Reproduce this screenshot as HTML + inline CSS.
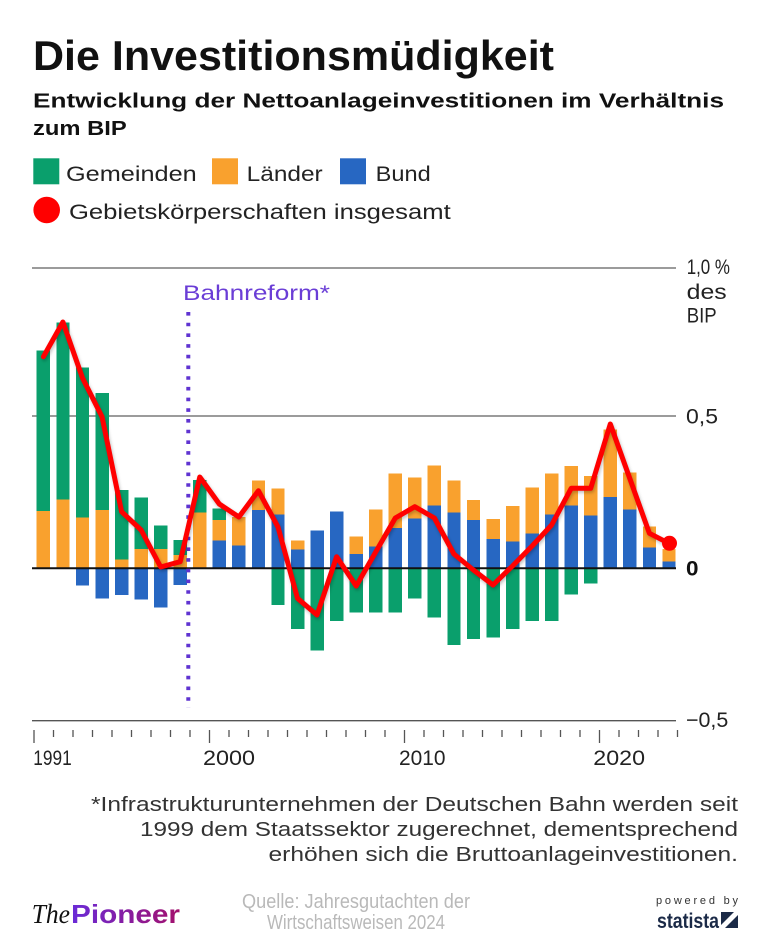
<!DOCTYPE html>
<html>
<head>
<meta charset="utf-8">
<style>
  html,body{margin:0;padding:0;background:#fff;}
  svg{display:block;}
  text{font-family:"Liberation Sans", "DejaVu Sans", sans-serif;}
</style>
</head>
<body>
<svg width="768" height="939" viewBox="0 0 768 939" xmlns="http://www.w3.org/2000/svg">
  <defs>
    <linearGradient id="pg" x1="0" y1="0" x2="1" y2="0">
      <stop offset="0" stop-color="#6a2bd8"/>
      <stop offset="1" stop-color="#a3106c"/>
    </linearGradient>
    <filter id="sh" x="-5%" y="-5%" width="110%" height="110%">
      <feGaussianBlur stdDeviation="1.5"/>
    </filter>
  </defs>

  <!-- Header -->
  <text x="33" y="70" font-size="42" font-weight="bold" fill="#111" textLength="521" lengthAdjust="spacingAndGlyphs">Die Investitionsmüdigkeit</text>
  <text x="33" y="107.3" font-size="20.5" font-weight="bold" fill="#111" textLength="691" lengthAdjust="spacingAndGlyphs">Entwicklung der Nettoanlageinvestitionen im Verhältnis</text>
  <text x="33" y="135" font-size="20.5" font-weight="bold" fill="#111" textLength="93.7" lengthAdjust="spacingAndGlyphs">zum BIP</text>

  <!-- Legend -->
  <rect x="33.3" y="158.3" width="26" height="26" fill="#0a9f6c"/>
  <text x="66" y="181" font-size="21" fill="#222" textLength="130.7" lengthAdjust="spacingAndGlyphs">Gemeinden</text>
  <rect x="212" y="158.3" width="26" height="26" fill="#f9a12e"/>
  <text x="246.7" y="181" font-size="21" fill="#222" textLength="76" lengthAdjust="spacingAndGlyphs">Länder</text>
  <rect x="340" y="158.3" width="26" height="26" fill="#2767c2"/>
  <text x="375.7" y="181" font-size="21" fill="#222" textLength="55" lengthAdjust="spacingAndGlyphs">Bund</text>
  <circle cx="46.7" cy="210" r="13.3" fill="#ff0000"/>
  <text x="69" y="219" font-size="21" fill="#222" textLength="381.7" lengthAdjust="spacingAndGlyphs">Gebietskörperschaften insgesamt</text>

  <!-- Gridlines -->
  <line x1="32" y1="268" x2="676" y2="268" stroke="#7a7a7a" stroke-width="1.4"/>
  <line x1="32" y1="416" x2="676" y2="416" stroke="#7a7a7a" stroke-width="1.4"/>
  <line x1="32" y1="720.7" x2="676" y2="720.7" stroke="#555" stroke-width="1.4"/>

  <!-- Bars -->
  <g shape-rendering="crispEdges">
    <!-- 1991 -->
    <rect x="36.7" y="511" width="13.4" height="57.3" fill="#f9a12e"/>
    <rect x="36.7" y="350.7" width="13.4" height="160.3" fill="#0a9f6c"/>
    <!-- 1992 -->
    <rect x="56.25" y="499.3" width="13.4" height="69" fill="#f9a12e"/>
    <rect x="56.25" y="322.7" width="13.4" height="176.6" fill="#0a9f6c"/>
    <!-- 1993 -->
    <rect x="75.8" y="517.3" width="13.4" height="51" fill="#f9a12e"/>
    <rect x="75.8" y="367.3" width="13.4" height="150" fill="#0a9f6c"/>
    <rect x="75.8" y="568.3" width="13.4" height="17" fill="#2767c2"/>
    <!-- 1994 -->
    <rect x="95.35" y="510" width="13.4" height="58.3" fill="#f9a12e"/>
    <rect x="95.35" y="393" width="13.4" height="117" fill="#0a9f6c"/>
    <rect x="95.35" y="568.3" width="13.4" height="30" fill="#2767c2"/>
    <!-- 1995 -->
    <rect x="114.9" y="559.3" width="13.4" height="9" fill="#f9a12e"/>
    <rect x="114.9" y="490" width="13.4" height="69.3" fill="#0a9f6c"/>
    <rect x="114.9" y="568.3" width="13.4" height="26.7" fill="#2767c2"/>
    <!-- 1996 -->
    <rect x="134.45" y="549" width="13.4" height="19.3" fill="#f9a12e"/>
    <rect x="134.45" y="497.3" width="13.4" height="51.7" fill="#0a9f6c"/>
    <rect x="134.45" y="568.3" width="13.4" height="31" fill="#2767c2"/>
    <!-- 1997 -->
    <rect x="154" y="549" width="13.4" height="19.3" fill="#f9a12e"/>
    <rect x="154" y="525.7" width="13.4" height="23.3" fill="#0a9f6c"/>
    <rect x="154" y="568.3" width="13.4" height="39" fill="#2767c2"/>
    <!-- 1998 -->
    <rect x="173.55" y="555" width="13.4" height="13.3" fill="#f9a12e"/>
    <rect x="173.55" y="540" width="13.4" height="15" fill="#0a9f6c"/>
    <rect x="173.55" y="568.3" width="13.4" height="16.7" fill="#2767c2"/>
    <!-- 1999 -->
    <rect x="193.1" y="512.7" width="13.4" height="55.6" fill="#f9a12e"/>
    <rect x="193.1" y="480" width="13.4" height="32.7" fill="#0a9f6c"/>
    <!-- 2000 -->
    <rect x="212.65" y="540.7" width="13.4" height="27.6" fill="#2767c2"/>
    <rect x="212.65" y="520" width="13.4" height="20.7" fill="#f9a12e"/>
    <rect x="212.65" y="508.3" width="13.4" height="11.7" fill="#0a9f6c"/>
    <!-- 2001 -->
    <rect x="232.2" y="545.7" width="13.4" height="22.6" fill="#2767c2"/>
    <rect x="232.2" y="517" width="13.4" height="28.7" fill="#f9a12e"/>
    <!-- 2002 -->
    <rect x="251.75" y="510" width="13.4" height="58.3" fill="#2767c2"/>
    <rect x="251.75" y="480.7" width="13.4" height="29.3" fill="#f9a12e"/>
    <!-- 2003 -->
    <rect x="271.3" y="514.3" width="13.4" height="54" fill="#2767c2"/>
    <rect x="271.3" y="488.3" width="13.4" height="26" fill="#f9a12e"/>
    <rect x="271.3" y="568.3" width="13.4" height="36.7" fill="#0a9f6c"/>
    <!-- 2004 -->
    <rect x="290.85" y="549.3" width="13.4" height="19" fill="#2767c2"/>
    <rect x="290.85" y="540.7" width="13.4" height="8.6" fill="#f9a12e"/>
    <rect x="290.85" y="568.3" width="13.4" height="60.7" fill="#0a9f6c"/>
    <!-- 2005 -->
    <rect x="310.4" y="530.7" width="13.4" height="37.6" fill="#2767c2"/>
    <rect x="310.4" y="568.3" width="13.4" height="82" fill="#0a9f6c"/>
    <!-- 2006 -->
    <rect x="329.95" y="511.7" width="13.4" height="56.6" fill="#2767c2"/>
    <rect x="329.95" y="568.3" width="13.4" height="52.7" fill="#0a9f6c"/>
    <!-- 2007 -->
    <rect x="349.5" y="554" width="13.4" height="14.3" fill="#2767c2"/>
    <rect x="349.5" y="536.7" width="13.4" height="17.3" fill="#f9a12e"/>
    <rect x="349.5" y="568.3" width="13.4" height="44" fill="#0a9f6c"/>
    <!-- 2008 -->
    <rect x="369.05" y="546.7" width="13.4" height="21.6" fill="#2767c2"/>
    <rect x="369.05" y="509.3" width="13.4" height="37.4" fill="#f9a12e"/>
    <rect x="369.05" y="568.3" width="13.4" height="44" fill="#0a9f6c"/>
    <!-- 2009 -->
    <rect x="388.6" y="528" width="13.4" height="40.3" fill="#2767c2"/>
    <rect x="388.6" y="473.3" width="13.4" height="54.7" fill="#f9a12e"/>
    <rect x="388.6" y="568.3" width="13.4" height="44" fill="#0a9f6c"/>
    <!-- 2010 -->
    <rect x="408.15" y="518.3" width="13.4" height="50" fill="#2767c2"/>
    <rect x="408.15" y="477.3" width="13.4" height="41" fill="#f9a12e"/>
    <rect x="408.15" y="568.3" width="13.4" height="30" fill="#0a9f6c"/>
    <!-- 2011 -->
    <rect x="427.7" y="505.7" width="13.4" height="62.6" fill="#2767c2"/>
    <rect x="427.7" y="465.7" width="13.4" height="40" fill="#f9a12e"/>
    <rect x="427.7" y="568.3" width="13.4" height="49" fill="#0a9f6c"/>
    <!-- 2012 -->
    <rect x="447.25" y="512.7" width="13.4" height="55.6" fill="#2767c2"/>
    <rect x="447.25" y="480.7" width="13.4" height="32" fill="#f9a12e"/>
    <rect x="447.25" y="568.3" width="13.4" height="76.7" fill="#0a9f6c"/>
    <!-- 2013 -->
    <rect x="466.8" y="520" width="13.4" height="48.3" fill="#2767c2"/>
    <rect x="466.8" y="500" width="13.4" height="20" fill="#f9a12e"/>
    <rect x="466.8" y="568.3" width="13.4" height="70.7" fill="#0a9f6c"/>
    <!-- 2014 -->
    <rect x="486.35" y="539" width="13.4" height="29.3" fill="#2767c2"/>
    <rect x="486.35" y="519" width="13.4" height="20" fill="#f9a12e"/>
    <rect x="486.35" y="568.3" width="13.4" height="69" fill="#0a9f6c"/>
    <!-- 2015 -->
    <rect x="505.9" y="541.7" width="13.4" height="26.6" fill="#2767c2"/>
    <rect x="505.9" y="506" width="13.4" height="35.7" fill="#f9a12e"/>
    <rect x="505.9" y="568.3" width="13.4" height="60.7" fill="#0a9f6c"/>
    <!-- 2016 -->
    <rect x="525.45" y="533.3" width="13.4" height="35" fill="#2767c2"/>
    <rect x="525.45" y="487.3" width="13.4" height="46" fill="#f9a12e"/>
    <rect x="525.45" y="568.3" width="13.4" height="52.7" fill="#0a9f6c"/>
    <!-- 2017 -->
    <rect x="545" y="514.3" width="13.4" height="54" fill="#2767c2"/>
    <rect x="545" y="473.3" width="13.4" height="41" fill="#f9a12e"/>
    <rect x="545" y="568.3" width="13.4" height="52.7" fill="#0a9f6c"/>
    <!-- 2018 -->
    <rect x="564.55" y="505.3" width="13.4" height="63" fill="#2767c2"/>
    <rect x="564.55" y="466" width="13.4" height="39.3" fill="#f9a12e"/>
    <rect x="564.55" y="568.3" width="13.4" height="26" fill="#0a9f6c"/>
    <!-- 2019 -->
    <rect x="584.1" y="515.3" width="13.4" height="53" fill="#2767c2"/>
    <rect x="584.1" y="476" width="13.4" height="39.3" fill="#f9a12e"/>
    <rect x="584.1" y="568.3" width="13.4" height="15" fill="#0a9f6c"/>
    <!-- 2020 -->
    <rect x="603.65" y="497" width="13.4" height="71.3" fill="#2767c2"/>
    <rect x="603.65" y="429.3" width="13.4" height="67.7" fill="#f9a12e"/>
    <!-- 2021 -->
    <rect x="623.2" y="509.3" width="13.4" height="59" fill="#2767c2"/>
    <rect x="623.2" y="472.7" width="13.4" height="36.6" fill="#f9a12e"/>
    <!-- 2022 -->
    <rect x="642.75" y="547.3" width="13.4" height="21" fill="#2767c2"/>
    <rect x="642.75" y="526.7" width="13.4" height="20.6" fill="#f9a12e"/>
    <!-- 2023 -->
    <rect x="662.3" y="561.7" width="13.4" height="6.6" fill="#2767c2"/>
    <rect x="662.3" y="549" width="13.4" height="12.7" fill="#f9a12e"/>
  </g>

  <!-- Zero line -->
  <line x1="32" y1="568.3" x2="676" y2="568.3" stroke="#111" stroke-width="2"/>

  <!-- Bahnreform dotted line -->
  <line x1="188.3" y1="312" x2="188.3" y2="708" stroke="#5f33d1" stroke-width="4" stroke-dasharray="3.6 7.1"/>
  <text x="183" y="300" font-size="21" fill="#6a3dd6" textLength="147" lengthAdjust="spacingAndGlyphs">Bahnreform*</text>

  <!-- Red total line -->
  <polyline fill="none" stroke="#000" stroke-opacity="0.25" stroke-width="5" stroke-linejoin="round" stroke-linecap="round" filter="url(#sh)" transform="translate(1,2)"
    points="43.4,356.7 62.9,322 82.5,378 102,416.7 121.6,511.7 141.1,530 160.7,567 180.2,561.7 199.8,477 219.3,504 238.9,517 258.4,490.7 278,527 297.5,598.3 317,615 336.6,556.7 356.2,586 375.7,552 395.3,518 414.8,506.7 434.4,518 453.9,554 473.4,570 493,585 512.5,566 532.1,546 551.6,525 571.2,488.3 590.7,488.3 610.3,424 629.8,478.5 649.4,533.3 668.9,543.3"/>
  <polyline fill="none" stroke="#ff0000" stroke-width="5" stroke-linejoin="round" stroke-linecap="round"
    points="43.4,356.7 62.9,322 82.5,378 102,416.7 121.6,511.7 141.1,530 160.7,567 180.2,561.7 199.8,477 219.3,504 238.9,517 258.4,490.7 278,527 297.5,598.3 317,615 336.6,556.7 356.2,586 375.7,552 395.3,518 414.8,506.7 434.4,518 453.9,554 473.4,570 493,585 512.5,566 532.1,546 551.6,525 571.2,488.3 590.7,488.3 610.3,424 629.8,478.5 649.4,533.3 668.9,543.3"/>
  <circle cx="669.5" cy="543.3" r="7.5" fill="#ff0000"/>

  <!-- Y axis labels -->
  <text x="686.7" y="274" font-size="21" fill="#222" textLength="43.3" lengthAdjust="spacingAndGlyphs">1,0 %</text>
  <text x="686.7" y="299" font-size="21" fill="#222" textLength="40" lengthAdjust="spacingAndGlyphs">des</text>
  <text x="686.7" y="322.7" font-size="21" fill="#222" textLength="30" lengthAdjust="spacingAndGlyphs">BIP</text>
  <text x="686" y="423.5" font-size="21" fill="#222" textLength="32" lengthAdjust="spacingAndGlyphs">0,5</text>
  <text x="686" y="575.5" font-size="21" font-weight="bold" fill="#111" textLength="12.5" lengthAdjust="spacingAndGlyphs">0</text>
  <text x="686" y="727" font-size="21" fill="#222" textLength="42.3" lengthAdjust="spacingAndGlyphs">−0,5</text>

  <!-- X ticks -->
  <g stroke="#555" stroke-width="1.3">
    <line x1="34" y1="730" x2="34" y2="743"/>
    <line x1="53.5" y1="730" x2="53.5" y2="737"/>
    <line x1="73" y1="730" x2="73" y2="737"/>
    <line x1="92.5" y1="730" x2="92.5" y2="737"/>
    <line x1="112" y1="730" x2="112" y2="737"/>
    <line x1="131.5" y1="730" x2="131.5" y2="737"/>
    <line x1="151" y1="730" x2="151" y2="737"/>
    <line x1="170.5" y1="730" x2="170.5" y2="737"/>
    <line x1="190" y1="730" x2="190" y2="737"/>
    <line x1="209.5" y1="730" x2="209.5" y2="743"/>
    <line x1="229" y1="730" x2="229" y2="737"/>
    <line x1="248.5" y1="730" x2="248.5" y2="737"/>
    <line x1="268" y1="730" x2="268" y2="737"/>
    <line x1="287.5" y1="730" x2="287.5" y2="737"/>
    <line x1="307" y1="730" x2="307" y2="737"/>
    <line x1="326.5" y1="730" x2="326.5" y2="737"/>
    <line x1="346" y1="730" x2="346" y2="737"/>
    <line x1="365.5" y1="730" x2="365.5" y2="737"/>
    <line x1="385" y1="730" x2="385" y2="737"/>
    <line x1="404.5" y1="730" x2="404.5" y2="743"/>
    <line x1="424" y1="730" x2="424" y2="737"/>
    <line x1="443.5" y1="730" x2="443.5" y2="737"/>
    <line x1="463" y1="730" x2="463" y2="737"/>
    <line x1="482.5" y1="730" x2="482.5" y2="737"/>
    <line x1="502" y1="730" x2="502" y2="737"/>
    <line x1="521.5" y1="730" x2="521.5" y2="737"/>
    <line x1="541" y1="730" x2="541" y2="737"/>
    <line x1="560.5" y1="730" x2="560.5" y2="737"/>
    <line x1="580" y1="730" x2="580" y2="737"/>
    <line x1="599.5" y1="730" x2="599.5" y2="743"/>
    <line x1="619" y1="730" x2="619" y2="737"/>
    <line x1="638.5" y1="730" x2="638.5" y2="737"/>
    <line x1="658" y1="730" x2="658" y2="737"/>
    <line x1="677.5" y1="730" x2="677.5" y2="737"/>
  </g>

  <!-- X labels -->
  <text x="33.3" y="765" font-size="21" fill="#222" textLength="38.4" lengthAdjust="spacingAndGlyphs">1991</text>
  <text x="203" y="765" font-size="21" fill="#222" textLength="52" lengthAdjust="spacingAndGlyphs">2000</text>
  <text x="399" y="765" font-size="21" fill="#222" textLength="46.5" lengthAdjust="spacingAndGlyphs">2010</text>
  <text x="593.3" y="765" font-size="21" fill="#222" textLength="51.7" lengthAdjust="spacingAndGlyphs">2020</text>

  <!-- Footnote -->
  <text x="738" y="811" font-size="20" fill="#333" text-anchor="end" textLength="647" lengthAdjust="spacingAndGlyphs">*Infrastrukturunternehmen der Deutschen Bahn werden seit</text>
  <text x="738" y="836" font-size="20" fill="#333" text-anchor="end" textLength="598" lengthAdjust="spacingAndGlyphs">1999 dem Staatssektor zugerechnet, dementsprechend</text>
  <text x="738" y="861" font-size="20" fill="#333" text-anchor="end" textLength="469.5" lengthAdjust="spacingAndGlyphs">erhöhen sich die Bruttoanlageinvestitionen.</text>

  <!-- Footer: ThePioneer -->
  <text x="31.7" y="923" font-family="Liberation Serif, serif" font-style="italic" font-size="27" fill="#111" textLength="38.3" lengthAdjust="spacingAndGlyphs" style="font-family:'Liberation Serif',serif">The</text>
  <text x="71" y="923" font-size="26" font-weight="bold" fill="url(#pg)" textLength="109" lengthAdjust="spacingAndGlyphs">Pioneer</text>

  <!-- Source -->
  <text x="356" y="908" font-size="20.5" fill="#b9b9b9" text-anchor="middle" textLength="228" lengthAdjust="spacingAndGlyphs">Quelle: Jahresgutachten der</text>
  <text x="356" y="929" font-size="20.5" fill="#b9b9b9" text-anchor="middle" textLength="178" lengthAdjust="spacingAndGlyphs">Wirtschaftsweisen 2024</text>

  <!-- powered by statista -->
  <text x="656" y="904" font-size="11" fill="#333" textLength="82" lengthAdjust="spacing">powered by</text>
  <text x="657" y="928" font-size="21" font-weight="bold" fill="#1b2a47" textLength="62" lengthAdjust="spacingAndGlyphs">statista</text>
  <rect x="721" y="912" width="17" height="16" fill="#1b2a47"/>
  <polygon points="721,925 734,912 738,912 738,915 725,928 721,928" fill="#ffffff"/>
</svg>
</body>
</html>
